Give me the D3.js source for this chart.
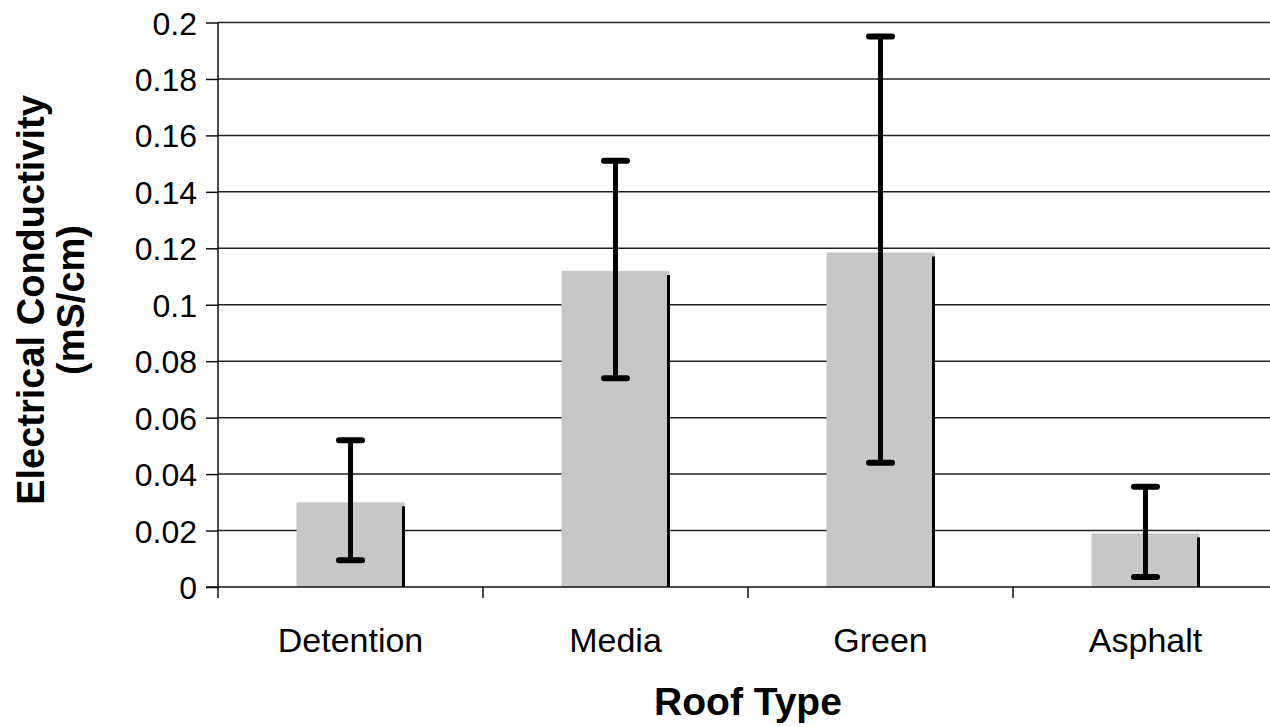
<!DOCTYPE html>
<html><head><meta charset="utf-8">
<script src="https://cdn.jsdelivr.net/npm/d3@7"></script>
<style>body{margin:0;background:#fff}svg{display:block}text{font-family:"Liberation Sans",Arial,sans-serif}</style>
</head><body>
<script>
const categories = ["Detention","Media","Green","Asphalt"];
const means = [0.030, 0.112, 0.1185, 0.019];
const errHigh = [0.052, 0.151, 0.195, 0.0355];
const errLow = [0.0095, 0.074, 0.044, 0.0035];
const yTicks = [0,0.02,0.04,0.06,0.08,0.1,0.12,0.14,0.16,0.18,0.2];
const yTickLabels = ["0","0.02","0.04","0.06","0.08","0.1","0.12","0.14","0.16","0.18","0.2"];

const W=1270,H=727;
const svg=d3.select("body").append("svg").attr("width",W).attr("height",H);
const x=d3.scaleBand().domain(categories).range([218,1278]).paddingInner(0).paddingOuter(0);
const y=d3.scaleLinear().domain([0,0.2]).range([587,22.5]);

// gridlines
svg.append("g").selectAll("line").data(yTicks.slice(1)).join("line")
  .attr("x1",218).attr("x2",1278).attr("y1",d=>y(d)).attr("y2",d=>y(d))
  .attr("stroke","#222").attr("stroke-width",1.5);

// y axis
const yAxis=d3.axisLeft(y).tickValues(yTicks).tickFormat((d,i)=>yTickLabels[i]).tickSize(12).tickPadding(9);
const ya=svg.append("g").attr("transform","translate(218,0)").call(yAxis);
ya.select(".domain").attr("stroke","#111").attr("stroke-width",1.5).attr("d","M0,22.5V587");
ya.selectAll(".tick line").attr("stroke","#111").attr("stroke-width",1.5);
ya.selectAll(".tick text").attr("font-size",32).attr("fill","#000").attr("dy","0.36em");

// bars
const bw=108;
const bars=svg.append("g");
bars.selectAll("rect").data(categories).join("rect")
  .attr("x",d=>x(d)+x.bandwidth()/2-bw/2).attr("width",bw)
  .attr("y",(d,i)=>y(means[i])).attr("height",(d,i)=>y(0)-y(means[i]))
  .attr("fill","#c6c7c6");
bars.selectAll("line").data(categories).join("line")
  .attr("x1",d=>x(d)+x.bandwidth()/2+bw/2-1).attr("x2",d=>x(d)+x.bandwidth()/2+bw/2-1)
  .attr("y1",(d,i)=>y(means[i])+4).attr("y2",y(0))
  .attr("stroke","#000").attr("stroke-width",3);

// x axis
const xa=svg.append("g").attr("transform","translate(0,587)");
xa.append("line").attr("x1",206).attr("x2",1278).attr("y1",0).attr("y2",0).attr("stroke","#111").attr("stroke-width",1.5);
const xt=[...categories.map(d=>x(d)),1278];
xa.selectAll("line.t").data(xt).join("line").attr("class","t")
  .attr("x1",d=>d).attr("x2",d=>d).attr("y1",0).attr("y2",11).attr("stroke","#111").attr("stroke-width",1.5);
xa.selectAll("text").data(categories).join("text")
  .attr("x",d=>x(d)+x.bandwidth()/2).attr("y",65).attr("text-anchor","middle")
  .attr("font-size",34).attr("fill","#000").text(d=>d);

// error bars
const eb=svg.append("g").attr("stroke","#000");
categories.forEach((c,i)=>{
  const cx=x(c)+x.bandwidth()/2;
  eb.append("line").attr("x1",cx).attr("x2",cx).attr("y1",y(errHigh[i])).attr("y2",y(errLow[i])).attr("stroke-width",5);
  [errHigh[i],errLow[i]].forEach(v=>{
    eb.append("line").attr("x1",cx-11.5).attr("x2",cx+11.5).attr("y1",y(v)).attr("y2",y(v))
      .attr("stroke-width",6).attr("stroke-linecap","round");
  });
});

// titles
svg.append("text").attr("x",748).attr("y",715).attr("text-anchor","middle")
  .attr("font-size",39).attr("font-weight","bold").text("Roof Type");
const yt=svg.append("text").attr("transform","translate(44,300) rotate(-90)").attr("text-anchor","middle")
  .attr("font-size",38).attr("font-weight","bold");
yt.append("tspan").attr("x",0).attr("dy",0).text("Electrical Conductivity");
yt.append("tspan").attr("x",0).attr("dy",40).text("(mS/cm)");
</script>
</body></html>
